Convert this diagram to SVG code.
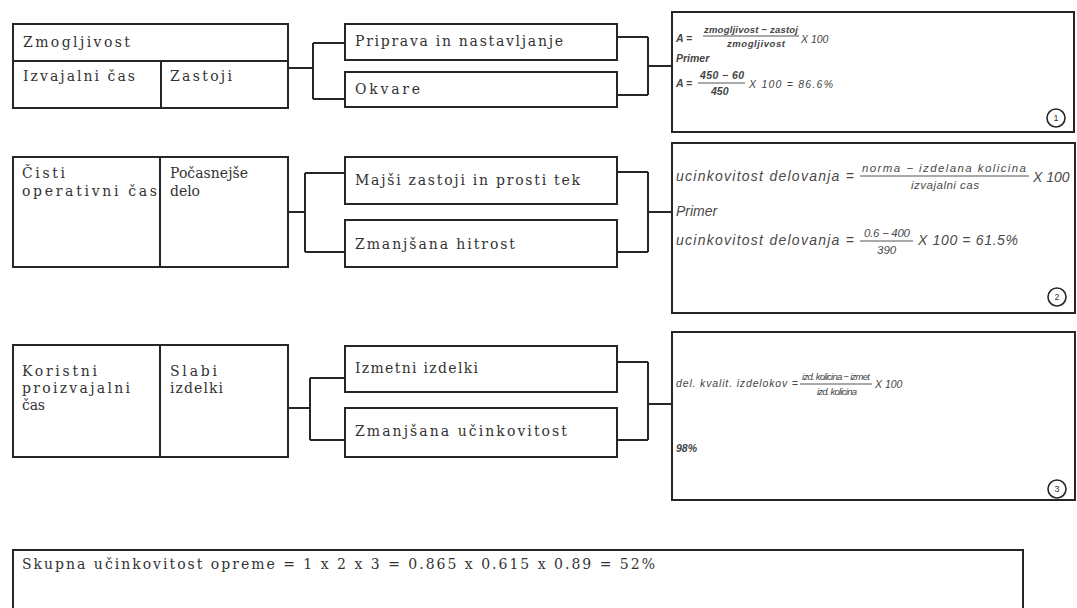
<svg xmlns="http://www.w3.org/2000/svg" width="1077" height="608" viewBox="0 0 1077 608">
<style>
.box{fill:#fff;stroke:#262626;stroke-width:2}
.ln{fill:none;stroke:#262626;stroke-width:2}
.fl{fill:none;stroke:#555;stroke-width:1}
.t{font-family:"DejaVu Serif","Liberation Serif",serif;font-size:14px;fill:#333}
.f{font-family:"Liberation Sans",Arial,sans-serif;font-style:italic;font-size:10.5px;fill:#444}
.fs{font-family:"Liberation Sans",Arial,sans-serif;font-style:italic;font-size:9.5px;fill:#444}
.g{font-family:"Liberation Sans",Arial,sans-serif;font-style:italic;font-size:14px;fill:#4a4a4a}
.gs{font-family:"Liberation Sans",Arial,sans-serif;font-style:italic;font-size:11.5px;fill:#4a4a4a}
.b{font-weight:bold}
.c{fill:#fff;stroke:#262626;stroke-width:1.6}
.cn{font-family:"Liberation Sans",Arial,sans-serif;font-size:9px;fill:#333;text-anchor:middle}
</style>
<rect width="1077" height="608" fill="#fff"/>

<g id="connectors">
  <path class="ln" d="M288 68H313M313 43V99M313 43H345M313 99H345"/>
  <path class="ln" d="M617 37H648M617 95H648M648 37V95M648 66H672"/>
  <path class="ln" d="M288 212H305M305 173V252M305 173H345M305 252H345"/>
  <path class="ln" d="M617 172H648M617 252H648M648 172V252M648 212H672"/>
  <path class="ln" d="M288 408H310M310 378V440M310 378H345M310 440H345"/>
  <path class="ln" d="M617 362H648M617 440H648M648 362V440M648 404H672"/>
</g>

<g id="row1-left">
  <rect class="box" x="13" y="24" width="275" height="84"/>
  <path class="ln" d="M13 61H288M161 61V108"/>
  <text class="t" x="23" y="47" textLength="107">Zmogljivost</text>
  <text class="t" x="23" y="81" textLength="112">Izvajalni čas</text>
  <text class="t" x="170" y="81" textLength="62">Zastoji</text>
</g>
<g id="row1-a">
  <rect class="box" x="345" y="24" width="272" height="36"/>
  <text class="t" x="355" y="46" textLength="208">Priprava in nastavljanje</text>
</g>
<g id="row1-b">
  <rect class="box" x="345" y="72" width="272" height="35"/>
  <text class="t" x="355" y="94" textLength="65">Okvare</text>
</g>
<g id="formula1">
  <rect class="box" x="672" y="12" width="402" height="120"/>
  <text class="f b" x="676" y="42">A =</text>
  <text class="fs b" x="704" y="33" textLength="94">zmogljivost − zastoj</text>
  <path class="fl" d="M703 36H799"/>
  <text class="fs b" x="727" y="47" textLength="58">zmogljivost</text>
  <text class="f" x="801" y="43">X 100</text>
  <text class="f b" x="676" y="62">Primer</text>
  <text class="f b" x="676" y="87">A =</text>
  <text class="f b" x="700" y="79" textLength="44">450 − 60</text>
  <path class="fl" d="M698 83H745"/>
  <text class="f b" x="711" y="95">450</text>
  <text class="f" x="749" y="88" textLength="84">X 100 = 86.6%</text>
  <circle class="c" cx="1056" cy="118" r="9"/>
  <text class="cn" x="1056" y="121">1</text>
</g>

<g id="row2-left">
  <rect class="box" x="13" y="157" width="275" height="110"/>
  <path class="ln" d="M160 157V267"/>
  <text class="t" x="22" y="178" textLength="43">Čisti</text>
  <text class="t" x="22" y="196" textLength="135">operativni čas</text>
  <text class="t" x="170" y="178" textLength="78">Počasnejše</text>
  <text class="t" x="170" y="196" textLength="30">delo</text>
</g>
<g id="row2-a">
  <rect class="box" x="345" y="157" width="272" height="47"/>
  <text class="t" x="355" y="185" textLength="225">Majši zastoji in prosti tek</text>
</g>
<g id="row2-b">
  <rect class="box" x="345" y="220" width="272" height="47"/>
  <text class="t" x="355" y="249" textLength="160">Zmanjšana hitrost</text>
</g>
<g id="formula2">
  <rect class="box" x="672" y="143" width="403" height="170"/>
  <text class="g" x="676" y="181" textLength="178">ucinkovitost delovanja =</text>
  <text class="gs" x="862" y="172" textLength="164">norma − izdelana kolicina</text>
  <path class="fl" d="M860 176H1029"/>
  <text class="gs" x="911" y="189" textLength="68">izvajalni cas</text>
  <text class="g" x="1033" y="182">X 100</text>
  <text class="g" x="676" y="216">Primer</text>
  <text class="g" x="676" y="245" textLength="178">ucinkovitost delovanja =</text>
  <text class="gs" x="864" y="237" textLength="46">0.6 − 400</text>
  <path class="fl" d="M860 241H913"/>
  <text class="gs" x="877" y="254">390</text>
  <text class="g" x="918" y="245" textLength="100">X 100 = 61.5%</text>
  <circle class="c" cx="1057" cy="297" r="9"/>
  <text class="cn" x="1057" y="300">2</text>
</g>

<g id="row3-left">
  <rect class="box" x="13" y="345" width="275" height="112"/>
  <path class="ln" d="M160 345V457"/>
  <text class="t" x="22" y="376" textLength="75">Koristni</text>
  <text class="t" x="22" y="393" textLength="108">proizvajalni</text>
  <text class="t" x="22" y="410" textLength="23">čas</text>
  <text class="t" x="170" y="376" textLength="47">Slabi</text>
  <text class="t" x="170" y="393" textLength="53">izdelki</text>
</g>
<g id="row3-a">
  <rect class="box" x="345" y="346" width="272" height="46"/>
  <text class="t" x="355" y="373" textLength="123">Izmetni izdelki</text>
</g>
<g id="row3-b">
  <rect class="box" x="345" y="408" width="272" height="49"/>
  <text class="t" x="355" y="436" textLength="212">Zmanjšana učinkovitost</text>
</g>
<g id="formula3">
  <rect class="box" x="672" y="332" width="403" height="168"/>
  <text class="f" x="676" y="387" textLength="122">del. kvalit. izdelokov =</text>
  <text class="fs" x="802" y="380" textLength="68">izd. kolicina − izmet</text>
  <path class="fl" d="M800 384H872"/>
  <text class="fs" x="817" y="395" textLength="40">izd. kolicina</text>
  <text class="f" x="875" y="388">X 100</text>
  <text class="f b" x="676" y="452">98%</text>
  <circle class="c" cx="1057" cy="489" r="9"/>
  <text class="cn" x="1057" y="492">3</text>
</g>

<g id="total">
  <rect class="box" x="13" y="550" width="1010" height="70"/>
  <text class="t" x="22" y="569" textLength="633">Skupna učinkovitost opreme = 1 x 2 x 3 = 0.865 x 0.615 x 0.89 = 52%</text>
</g>
</svg>
